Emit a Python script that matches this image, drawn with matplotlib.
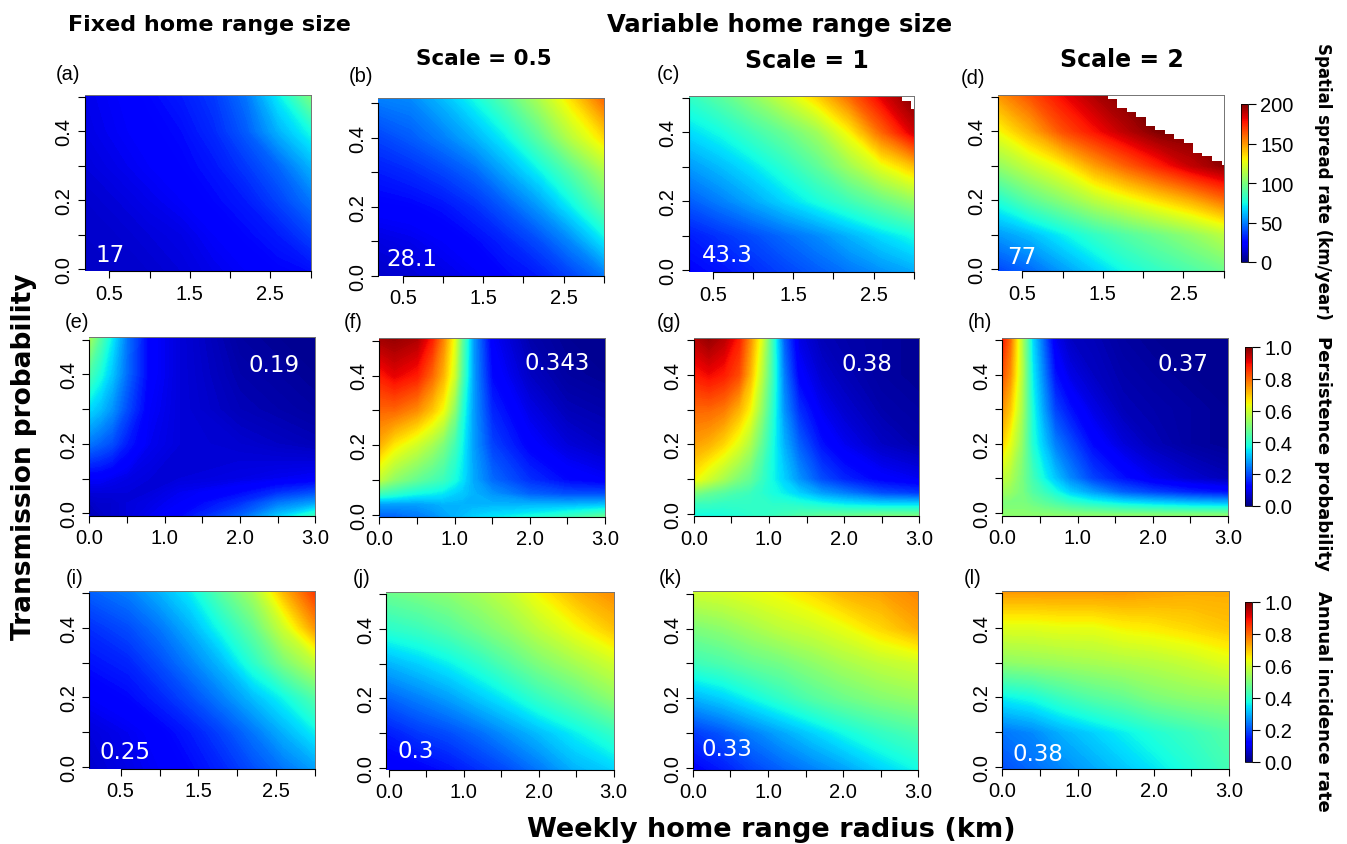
import matplotlib
matplotlib.use("Agg")
import matplotlib.pyplot as plt
import numpy as np
from matplotlib.cm import ScalarMappable
from matplotlib.colors import Normalize

W, H = 1347, 845
TICK_FONT = "Liberation Sans"

# grid nodes, values (rows run from y=0 up to y=0.5)
y_coarse = [0.0, 0.1, 0.2, 0.3, 0.4, 0.5]
y_persist = [0.0, 0.03, 0.06, 0.1, 0.2, 0.3, 0.4, 0.5]
x_fixed = [0.2, 0.6, 1.0, 1.4, 1.8, 2.2, 2.6, 3.0]
x_var = [0.0, 0.4, 0.8, 1.2, 1.6, 2.0, 2.5, 3.0]
x_e = [0.0, 0.15, 0.3, 0.5, 0.8, 1.2, 2.0, 2.5, 3.0]
x_f = [0.0, 0.2, 0.5, 0.7, 0.85, 1.0, 1.1, 1.25, 1.5, 2.0, 2.5, 3.0]
x_g = [0.0, 0.2, 0.4, 0.6, 0.75, 0.9, 1.05, 1.2, 1.4, 1.7, 2.0, 2.5, 3.0]
x_h = [0.0, 0.1, 0.25, 0.4, 0.55, 0.7, 0.9, 1.2, 1.6, 2.0, 2.5, 3.0]

spread_a = [
    [12, 13, 14, 16, 19, 22, 25, 27],
    [13, 14, 16, 18, 22, 26, 30, 38],
    [14, 16, 19, 22, 26, 30, 38, 48],
    [16, 19, 22, 25, 29, 36, 45, 60],
    [18, 21, 24, 27, 33, 43, 60, 75],
    [19, 22, 26, 30, 36, 48, 72, 100],
]
spread_b = [
    [13, 15, 18, 21, 26, 30, 38, 48],
    [17, 19, 22, 26, 32, 40, 52, 70],
    [24, 25, 28, 34, 43, 55, 72, 92],
    [30, 33, 38, 45, 58, 72, 90, 110],
    [38, 43, 50, 60, 73, 92, 115, 135],
    [50, 52, 62, 75, 92, 112, 135, 160],
]
spread_c = [
    [25, 28, 33, 38, 43, 48, 53, 58],
    [30, 35, 40, 46, 52, 60, 68, 75],
    [43, 50, 58, 67, 76, 85, 95, 105],
    [55, 62, 70, 80, 92, 108, 125, 140],
    [68, 75, 85, 95, 108, 130, 160, 185],
    [82, 92, 105, 120, 138, 160, 183, 200],
]
spread_d = [
    [38, 45, 55, 65, 75, 82, 88, 95],
    [55, 62, 72, 82, 90, 97, 105, 115],
    [78, 92, 103, 115, 125, 135, 145, 158],
    [105, 118, 130, 148, 162, 175, 188, 197],
    [128, 145, 165, 178, 190, 200, 200, 200],
    [150, 165, 180, 192, 200, 200, 200, 200],
]
# where the spread runs stop (blank corner of panels c and d)
edge_c_x = [2.853, 2.967, 3.0]
edge_c_y = [0.492, 0.468, 0.468]
edge_d_x = [1.562, 1.676, 1.795, 1.915, 2.029, 2.148, 2.267, 2.381, 2.501, 2.62, 2.734, 2.853, 2.973, 3.0]
edge_d_y = [0.493, 0.467, 0.4545, 0.441, 0.415, 0.403, 0.392, 0.377, 0.366, 0.338, 0.327, 0.313, 0.302, 0.302]

persist_e = [
    [.05, .06, .07, .08, .10, .13, .22, .32, .42],
    [.06, .07, .07, .08, .09, .11, .17, .24, .28],
    [.08, .08, .08, .08, .08, .10, .13, .17, .20],
    [.11, .11, .10, .09, .08, .08, .09, .10, .11],
    [.24, .22, .20, .15, .10, .08, .07, .06, .05],
    [.34, .31, .27, .20, .11, .08, .05, .04, .03],
    [.44, .38, .32, .23, .12, .08, .04, .03, .02],
    [.55, .45, .36, .24, .12, .08, .03, .02, .02],
]
persist_f = [
    [.22, .22, .24, .26, .28, .30, .31, .33, .35, .38, .42, .47],
    [.28, .28, .28, .29, .30, .30, .30, .30, .30, .30, .30, .31],
    [.42, .40, .37, .36, .35, .33, .32, .30, .27, .22, .20, .20],
    [.58, .52, .47, .44, .42, .38, .35, .29, .23, .17, .13, .11],
    [.72, .66, .60, .55, .50, .43, .37, .28, .19, .12, .08, .06],
    [.80, .80, .76, .70, .64, .52, .40, .28, .16, .09, .05, .04],
    [.88, .91, .88, .80, .72, .60, .45, .28, .13, .06, .03, .02],
    [.97, .98, .96, .88, .77, .63, .47, .28, .11, .04, .02, .02],
]
persist_g = [
    [.37, .37, .38, .39, .40, .41, .42, .43, .45, .47, .48, .50, .50],
    [.42, .42, .41, .41, .41, .41, .40, .40, .39, .37, .35, .33, .33],
    [.50, .47, .45, .43, .42, .40, .38, .36, .33, .28, .25, .20, .18],
    [.65, .60, .55, .50, .47, .42, .37, .33, .27, .20, .16, .12, .10],
    [.74, .72, .68, .62, .56, .47, .38, .30, .22, .14, .10, .06, .04],
    [.80, .80, .78, .72, .65, .53, .40, .27, .17, .10, .07, .04, .03],
    [.88, .90, .88, .83, .72, .58, .42, .25, .12, .07, .05, .03, .02],
    [.95, .98, .95, .88, .76, .62, .42, .22, .09, .05, .04, .03, .02],
]
persist_h = [
    [.52, .52, .52, .52, .52, .52, .52, .52, .52, .52, .52, .52],
    [.50, .50, .50, .48, .46, .44, .41, .38, .35, .33, .31, .30],
    [.54, .53, .50, .45, .42, .38, .33, .28, .22, .19, .16, .14],
    [.58, .56, .50, .43, .37, .32, .26, .19, .14, .10, .07, .05],
    [.68, .63, .53, .39, .32, .25, .20, .13, .08, .05, .03, .02],
    [.75, .70, .56, .38, .28, .19, .14, .09, .05, .04, .03, .02],
    [.82, .76, .58, .36, .25, .14, .09, .06, .04, .03, .02, .02],
    [.88, .80, .58, .34, .22, .10, .06, .05, .03, .02, .02, .02],
]

incid_i = [
    [.07, .09, .11, .13, .16, .20, .24, .28],
    [.08, .10, .12, .15, .19, .24, .30, .36],
    [.11, .13, .16, .20, .25, .31, .37, .45],
    [.14, .16, .20, .25, .31, .40, .50, .58],
    [.17, .20, .24, .30, .38, .47, .60, .75],
    [.22, .25, .30, .36, .46, .55, .72, .85],
]
incid_j = [
    [.11, .12, .14, .17, .20, .24, .30, .33],
    [.15, .18, .20, .23, .27, .31, .36, .41],
    [.22, .25, .28, .32, .36, .41, .46, .52],
    [.30, .33, .36, .40, .45, .50, .55, .60],
    [.40, .42, .45, .49, .53, .58, .64, .70],
    [.48, .50, .52, .55, .59, .65, .72, .76],
]
incid_k = [
    [.12, .15, .19, .22, .25, .28, .33, .37],
    [.18, .21, .25, .29, .33, .37, .41, .44],
    [.30, .33, .37, .41, .45, .48, .51, .53],
    [.42, .44, .47, .49, .52, .55, .58, .60],
    [.50, .52, .55, .58, .60, .63, .68, .73],
    [.60, .61, .63, .65, .68, .72, .74, .77],
]
incid_l = [
    [.20, .23, .26, .29, .32, .35, .39, .43],
    [.24, .26, .30, .33, .36, .39, .42, .45],
    [.36, .38, .42, .45, .47, .50, .52, .53],
    [.52, .53, .54, .55, .56, .57, .59, .62],
    [.62, .62, .63, .63, .65, .66, .68, .70],
    [.75, .75, .75, .75, .75, .74, .73, .73],
]

# left, right, top, bottom, y=0.5 tick, y=0 tick in pixels
PANELS = [
    ("(a)", spread_a, x_fixed, y_coarse, 200, "17", (84.6, 310.5, 95.7, 272.3, 97.7, 270), (68, 75), (110, 256), 0.193),
    ("(b)", spread_b, x_fixed, y_coarse, 200, "28.1", (378, 604, 99, 277, 104, 277), (361, 76), (412, 260), 0.193),
    ("(c)", spread_c, x_fixed, y_coarse, 200, "43.3", (688.5, 913.6, 96.7, 273.3, 99, 271), (668, 74), (727, 256), 0.193),
    ("(d)", spread_d, x_fixed, y_coarse, 200, "77", (997.7, 1223.7, 95.7, 272.3, 97.7, 270), (973, 79), (1022, 258), 0.193),
    ("(e)", persist_e, x_e, y_persist, 1, "0.19", (89.3, 315.3, 338.3, 516.7, 340.7, 514.3), (77, 322), (274, 366), 0.0),
    ("(f)", persist_f, x_f, y_persist, 1, "0.343", (379.4, 605, 339, 517.7, 341.7, 515.7), (353, 322), (557, 364), 0.0),
    ("(g)", persist_g, x_g, y_persist, 1, "0.38", (693.7, 919.3, 339, 517.3, 341, 515), (669, 322), (867, 365), 0.0),
    ("(h)", persist_h, x_h, y_persist, 1, "0.37", (1002.5, 1228, 339, 516.7, 341, 514), (980, 322), (1183, 365), 0.0),
    ("(i)", incid_i, x_fixed, y_coarse, 1, "0.25", (89.3, 315.3, 592, 770, 594, 768), (75, 578), (125, 753), 0.098),
    ("(j)", incid_j, x_var, y_coarse, 1, "0.3", (386.4, 613.6, 592.7, 771, 595, 769), (362, 578), (416, 752), -0.035),
    ("(k)", incid_k, x_var, y_coarse, 1, "0.33", (692.9, 918.4, 592.3, 771, 594.7, 768.7), (670, 578), (727, 750), 0.0),
    ("(l)", incid_l, x_var, y_coarse, 1, "0.38", (1002.5, 1229, 591.7, 770, 594, 768), (973, 578), (1038, 755), 0.0),
]
BARS = [
    (200, [0, 50, 100, 150, 200], ["0", "50", "100", "150", "200"], (1241, 1247.5, 105, 263)),
    (1, [0, .2, .4, .6, .8, 1], ["0.0", "0.2", "0.4", "0.6", "0.8", "1.0"], (1245, 1252, 348, 507)),
    (1, [0, .2, .4, .6, .8, 1], ["0.0", "0.2", "0.4", "0.6", "0.8", "1.0"], (1245, 1252, 603, 763)),
]


def add_axes_px(left, right, top, bottom):
    return fig.add_axes([left / W, 1 - bottom / H, (right - left) / W, (bottom - top) / H])


def label_px(x, y, text, **kw):
    fig.text(x / W, 1 - y / H, text, ha="center", va="center", **kw)


def draw_panel(label, values, xs, ys, vmax, note, box, tag_xy, note_xy, x_low):
    left, right, top, bottom, y_half, y_zero = box
    ax = add_axes_px(left, right, top, bottom)
    per_px = 0.5 / (y_zero - y_half)
    ylim = (-(bottom - y_zero) * per_px, 0.5 + (y_half - top) * per_px)
    xlim = (x_low, 3.0)

    # stretch the outer nodes to the edge of the plot area
    xn = np.array(xs, dtype=float)
    yn = np.array(ys, dtype=float)
    xn[0], xn[-1] = xlim
    yn[0], yn[-1] = ylim
    # many levels so the colours stay true to jet between the nodes
    ax.contourf(xn, yn, np.array(values, dtype=float), levels=np.linspace(0, vmax, 201),
                cmap="jet", extend="both", antialiased=False)

    if label == "(c)":
        ax.fill_between(edge_c_x, edge_c_y, 1, step="post", color="white", lw=0)
    if label == "(d)":
        ax.fill_between(edge_d_x, edge_d_y, 1, step="post", color="white", lw=0)
    ax.set_xlim(xlim)
    ax.set_ylim(ylim)

    if x_low > 0.05:
        ax.set_xticks([0.5, 1, 1.5, 2, 2.5, 3], ["0.5", "", "1.5", "", "2.5", ""])
        ax.spines["bottom"].set_bounds(0.5, 3)
    else:
        ax.set_xticks([0, 0.5, 1, 1.5, 2, 2.5, 3], ["0.0", "", "1.0", "", "2.0", "", "3.0"])
        ax.spines["bottom"].set_bounds(0, 3)
    ax.set_yticks([0, 0.1, 0.2, 0.3, 0.4, 0.5], ["0.0", "", "0.2", "", "0.4", ""])
    ax.spines["left"].set_bounds(0, 0.5)
    ax.tick_params(length=5, width=0.8, pad=3, labelsize=14.5)
    ax.tick_params(axis="x", pad=4)
    for tick in ax.get_xticklabels() + ax.get_yticklabels():
        tick.set_family(TICK_FONT)
    for tick in ax.get_yticklabels():
        tick.set_rotation(90)
        tick.set_va("center")
    for side in ("top", "right"):
        ax.spines[side].set_color("0.45")
        ax.spines[side].set_linewidth(0.7)

    label_px(*tag_xy, label, family=TICK_FONT, fontsize=14.5)
    label_px(*note_xy, note, color="white", fontsize=16.5)


fig = plt.figure(figsize=(W / 100, H / 100), dpi=100)

for panel in PANELS:
    draw_panel(*panel)

for vmax, ticks, names, (left, right, top, bottom) in BARS:
    cax = add_axes_px(left, right, top, bottom)
    bar = fig.colorbar(ScalarMappable(Normalize(0, vmax), "jet"), cax=cax)
    bar.set_ticks(ticks, labels=names)
    bar.outline.set_linewidth(0.6)
    cax.tick_params(length=6, width=0.8, pad=3, labelsize=14.5)
    for tick in cax.get_yticklabels():
        tick.set_family(TICK_FONT)

bold = dict(family="DejaVu Sans", fontweight="bold")
label_px(209, 25, "Fixed home range size", fontsize=16, **bold)
label_px(780, 25, "Variable home range size", fontsize=17.5, **bold)
label_px(484, 59, "Scale = 0.5", fontsize=15.5, **bold)
label_px(807, 61, "Scale = 1", fontsize=17, **bold)
label_px(1122, 60, "Scale = 2", fontsize=17, **bold)
label_px(771, 830, "Weekly home range radius (km)", fontsize=19.5, **bold)
label_px(24, 457, "Transmission probability", fontsize=19, rotation=90, **bold)
label_px(1323, 181, "Spatial spread rate (km/year)", fontsize=12, rotation=270, **bold)
label_px(1323, 453, "Persistence probability", fontsize=13, rotation=270, **bold)
label_px(1323, 701, "Annual incidence rate", fontsize=13, rotation=270, **bold)

fig.savefig("out.png", dpi=100)
